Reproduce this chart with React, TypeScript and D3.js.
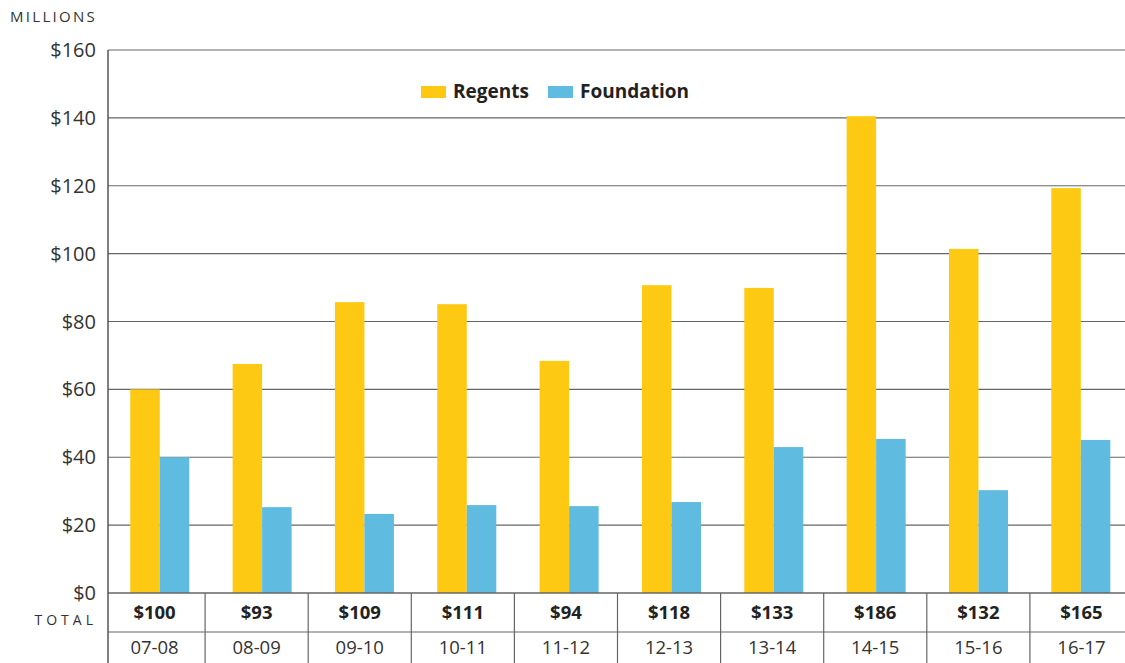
import React from "react";
import * as d3 from "d3";

const years = ["07-08", "08-09", "09-10", "10-11", "11-12", "12-13", "13-14", "14-15", "15-16", "16-17"];
const regents = [60, 67.5, 85.7, 85.1, 68.4, 90.7, 89.9, 140.5, 101.4, 119.3];
const foundation = [40, 25.3, 23.3, 25.9, 25.6, 26.8, 43.0, 45.4, 30.3, 45.1];
const totals = ["$100", "$93", "$109", "$111", "$94", "$118", "$133", "$186", "$132", "$165"];
const yTicks = [0, 20, 40, 60, 80, 100, 120, 140, 160];
const seriesNames = ["Regents", "Foundation"];
const colors = ["#FDC913", "#5FBBE0"];

const W = 1125;
const H = 663;
const FONT = "'Open Sans', 'Noto Sans', sans-serif";

export default function App() {
  const axisX = 108;
  const y = d3.scaleLinear().domain([0, 160]).range([593, 50]);
  const x0 = d3.scaleBand<string>().domain(years).range([108.6, 1132]).paddingInner(0).paddingOuter(0);
  const barW = 29.5;
  const tableX = d3.scaleBand<string>().domain(years).range([102, 1133]);
  const rowTop = 593;
  const rowMid = 632;

  return (
    <svg width={W} height={H} style={{ position: "absolute", left: 0, top: 0, display: "block", background: "#fff" }} fontFamily={FONT}>
      <text x={10} y={22} fontSize={15} letterSpacing={2.3} fill="#333">MILLIONS</text>
      {yTicks.map((t) => (
        <g key={t}>
          {t > 0 && <line x1={axisX} x2={W} y1={y(t)} y2={y(t)} stroke="#666" strokeWidth={1.2} />}
          <text x={96} y={y(t)} dy="0.35em" textAnchor="end" fontSize={20} fill="#333">{"$" + t}</text>
        </g>
      ))}
      {years.map((yr, i) => {
        const c = (x0(yr) as number) + x0.bandwidth() / 2;
        return (
          <g key={yr}>
            <rect x={c - barW} y={y(regents[i])} width={barW} height={y(0) - y(regents[i])} fill={colors[0]} />
            <rect x={c} y={y(foundation[i])} width={barW} height={y(0) - y(foundation[i])} fill={colors[1]} />
          </g>
        );
      })}
      {/* legend */}
      <rect x={421} y={86} width={25} height={12} fill={colors[0]} />
      <text x={453} y={98} fontSize={19} fontWeight={700} fill="#222">{seriesNames[0]}</text>
      <rect x={548} y={86} width={25} height={12} fill={colors[1]} />
      <text x={580} y={98} fontSize={19} fontWeight={700} fill="#222">{seriesNames[1]}</text>
      {/* table */}
      <line x1={axisX} x2={W} y1={rowTop} y2={rowTop} stroke="#666" strokeWidth={1.5} />
      <line x1={axisX} x2={W} y1={rowMid} y2={rowMid} stroke="#666" strokeWidth={1.2} />
      <line x1={axisX} x2={axisX} y1={50} y2={H} stroke="#555" strokeWidth={1.5} />
      {years.map((yr, i) => {
        const bx = tableX(yr) as number;
        const cx = i === 0 ? (axisX + bx + tableX.bandwidth()) / 2 - 2 : bx + tableX.bandwidth() / 2;
        return (
          <g key={"t" + yr}>
            {i > 0 && <line x1={bx} x2={bx} y1={rowTop} y2={H} stroke="#666" strokeWidth={1.2} />}
            <text x={cx} y={613} dy="0.35em" textAnchor="middle" fontSize={18.5} fontWeight={700} fill="#222">{totals[i]}</text>
            <text x={cx} y={648} dy="0.35em" textAnchor="middle" fontSize={18.5} fill="#333">{yr}</text>
          </g>
        );
      })}
      <text x={97} y={620} dy="0.35em" textAnchor="end" fontSize={14} letterSpacing={4} fill="#333">TOTAL</text>
    </svg>
  );
}
